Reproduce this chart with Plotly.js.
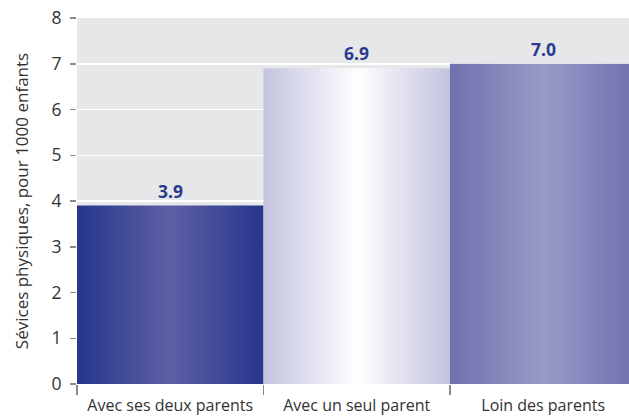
<!DOCTYPE html>
<html><head><meta charset="utf-8">
<script src="https://cdn.plot.ly/plotly-3.0.1.min.js"></script>
<style>html,body{margin:0;padding:0;background:#fff}#c{width:629px;height:416px}</style>
</head><body><div id="c"></div>
<script>
const categories = ["Avec ses deux parents", "Avec un seul parent", "Loin des parents"];
const values = [3.9, 6.9, 7.0];
const valueLabels = ["3.9", "6.9", "7.0"];
const yTicks = [0, 1, 2, 3, 4, 5, 6, 7, 8];
const edgeColors = ["#26368c", "#c3c3df", "#7070ae"];
const midColors = ["#5d60a4", "#ffffff", "#9a9ac8"];

const traces = [];
categories.forEach((c, i) => {
  const v = values[i];
  traces.push({
    type: "scatter", mode: "none",
    x: [i - 0.5, i - 0.5, i + 0.5, i + 0.5, i - 0.5],
    y: [0, v, v, 0, 0],
    fill: "toself",
    fillcolor: midColors[i],
    fillgradient: {type: "horizontal", colorscale: [[0, edgeColors[i]], [0.5, midColors[i]], [1, edgeColors[i]]]},
    hoverinfo: "skip", showlegend: false
  });
});

const annotations = categories.map((c, i) => ({
  x: i, y: values[i], xref: "x", yref: "y",
  text: "<b>" + valueLabels[i] + "</b>", showarrow: false,
  yanchor: "bottom", yshift: 1,
  font: {family: "Open Sans", size: 17.5, color: "#2b3990"}
}));

const layout = {
  width: 629, height: 416,
  margin: {l: 77, r: 0, t: 18, b: 32},
  paper_bgcolor: "#ffffff", plot_bgcolor: "#e6e7e9",
  showlegend: false,
  font: {family: "Open Sans", color: "#333333"},
  annotations: annotations,
  xaxis: {
    range: [-0.5, 2.46], showgrid: false, zeroline: false, showline: false,
    tickmode: "array", tickvals: categories.map((c, i) => i), ticktext: categories,
    ticks: "", ticklen: 0, ticklabelstandoff: 10, tickfont: {size: 16, color: "#333333"},
    minor: {tickmode: "array", tickvals: [-0.5, 0.5, 1.5], ticks: "outside", ticklen: 10, tickwidth: 1.5, tickcolor: "#8a8a8a", showgrid: false},
    fixedrange: true
  },
  yaxis: {
    range: [0, 8], tickmode: "array", tickvals: yTicks,
    showgrid: true, gridcolor: "#ffffff", gridwidth: 1.5,
    zeroline: false, showline: false,
    ticks: "outside", ticklen: 6, tickwidth: 1.5, tickcolor: "#8a8a8a",
    ticklabelstandoff: 5,
    tickfont: {size: 17.5, color: "#333333"},
    title: {text: "Sévices physiques, pour 1000 enfants", font: {size: 17, color: "#333333"}, standoff: 18},
    fixedrange: true
  }
};
Plotly.newPlot("c", traces, layout, {staticPlot: true, displayModeBar: false});
</script></body></html>
